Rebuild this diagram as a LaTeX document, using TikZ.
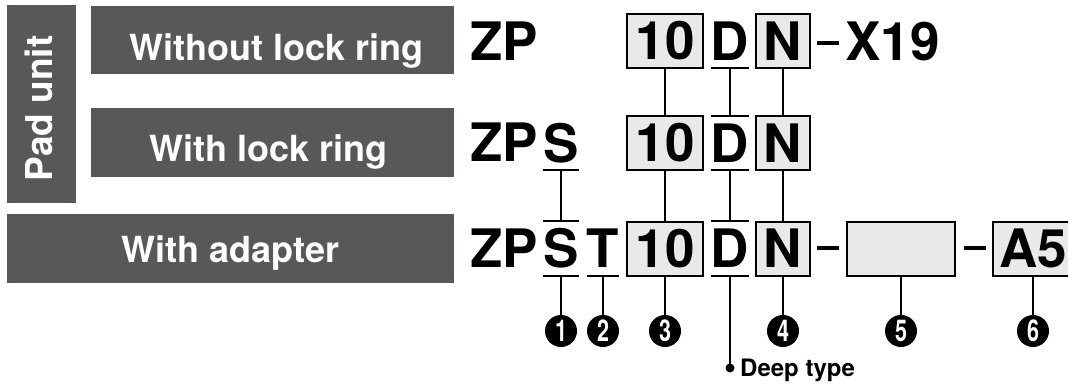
\documentclass[tikz,border=0pt]{standalone}
\usepackage{fontspec}
\setmainfont{TeX Gyre Heros}
\definecolor{hdrgray}{RGB}{89,87,88}
\definecolor{segfill}{RGB}{232,233,232}
\newcommand\cdfont{\fontsize{53}{53}\selectfont\bfseries}
\newcommand\numfnt{\fontsize{30}{30}\selectfont\bfseries}
\newcommand\numtxt[1]{\scalebox{0.72}[1]{#1}}
\begin{document}
\begin{tikzpicture}[x=1pt,y=-1pt,
  hdrbox/.style={fill=hdrgray, inner sep=0pt, outer sep=0pt},
  hdrtext/.style={text=white, font=\fontsize{36}{36}\selectfont\bfseries, inner sep=0pt, anchor=base},
  seg/.style={draw, line width=2pt, fill=segfill, minimum height=54pt, inner sep=0pt, font=\cdfont},
  plainseg/.style={minimum height=54pt, inner sep=0pt, font=\cdfont},
  codetxt/.style={inner sep=0pt, anchor=base west, font=\cdfont},
  rulel/.style={line width=2pt},
  conn/.style={line width=2pt},
  num/.style={circle, fill=black, minimum size=32pt, inner sep=0pt, text=white, font=\numfnt},
  dashglyph/.style={fill=black, minimum width=22pt, minimum height=4pt, inner sep=0pt},
]
\useasboundingbox (0,0) rectangle (1068,383);

% header boxes
\node[hdrbox, minimum width=198pt, minimum height=69pt, rotate=90] (pad) at (41.5,104) {};
\node[hdrtext, font=\fontsize{37}{37}\selectfont\bfseries, rotate=90] (padt) at (52,108.5) {Pad unit};
\node[hdrbox, minimum width=363pt, minimum height=68pt] (h1) at (272.5,40) {};
\node[hdrtext] (h1t) at (276.5,60) {Without lock ring};
\node[hdrbox, minimum width=363pt, minimum height=69pt] (h2) at (272.5,142.5) {};
\node[hdrtext] (h2t) at (268.5,161) {With lock ring};
\node[hdrbox, minimum width=447pt, minimum height=69pt] (h3) at (230.5,248.5) {};
\node[hdrtext] (h3t) at (230.5,262) {With adapter};

% row 1
\node[codetxt] (zp1) at (470,60) {ZP};
\node[seg, minimum width=76pt] (ta) at (665,41) {10};
\node[plainseg, minimum width=38pt] (da) at (730,41) {D};
\node[seg, minimum width=54pt] (na) at (783,41) {N};
\node[dashglyph] (dsh1) at (828,43) {};
\node[codetxt] (x19) at (845,60) {X19};
\draw[rulel] (da.south west) -- (da.south east);

% row 2
\node[codetxt] (zp2) at (470,161) {ZP};
\node[plainseg, minimum width=36pt] (sb) at (561,143) {S};
\node[seg, minimum width=76pt] (tb) at (665,143) {10};
\node[plainseg, minimum width=38pt] (db) at (730,143) {D};
\node[seg, minimum width=54pt] (nb) at (783,143) {N};
\draw[rulel] (sb.south west) -- (sb.south east);
\draw[rulel] (db.north west) -- (db.north east);
\draw[rulel] (db.south west) -- (db.south east);

% row 3
\node[codetxt] (zp3) at (470,267) {ZP};
\node[plainseg, minimum width=36pt] (sc) at (561,248.5) {S};
\node[plainseg, minimum width=32pt] (tcc) at (603,248.5) {T};
\node[seg, minimum width=76pt] (tc) at (665,248.5) {10};
\node[plainseg, minimum width=38pt] (dc) at (730,248.5) {D};
\node[seg, minimum width=54pt] (nc) at (783,248.5) {N};
\node[dashglyph] (dsh2) at (828,248) {};
\node[seg, minimum width=108pt] (blank) at (901,248.5) {};
\node[dashglyph] (dsh3) at (974.5,248) {};
\node[seg, minimum width=80pt] (a5) at (1033,248.5) {A5};
\draw[rulel] (sc.north west) -- (sc.north east);
\draw[rulel] (sc.south west) -- (sc.south east);
\draw[rulel] (tcc.south west) -- (tcc.south east);
\draw[rulel] (dc.north west) -- (dc.north east);
\draw[rulel] (dc.south west) -- (dc.south east);

% numbers
\node[num] (c1) at (561,331) {\numtxt{1}};
\node[num] (c2) at (603,331) {\numtxt{2}};
\node[num] (c3) at (665,331) {\numtxt{3}};
\node[num] (c4) at (783,331) {\numtxt{4}};
\node[num] (c5) at (901,331) {\numtxt{5}};
\node[num] (c6) at (1033,331) {\numtxt{6}};
\node[circle, fill=black, minimum size=9pt, inner sep=0pt] (dot) at (730,368) {};
\node[inner sep=0pt, anchor=base west, font=\fontsize{24}{24}\selectfont\bfseries] (deep) at (740,376) {Deep type};

% connectors
\draw[conn] (ta.south) -- (tb.north);
\draw[conn] (da.south) -- (db.north);
\draw[conn] (na.south) -- (nb.north);
\draw[conn] (sb.south) -- (sc.north);
\draw[conn] (tb.south) -- (tc.north);
\draw[conn] (db.south) -- (dc.north);
\draw[conn] (nb.south) -- (nc.north);
\draw[conn] (sc.south) -- (c1.north);
\draw[conn] (tcc.south) -- (c2.north);
\draw[conn] (tc.south) -- (c3.north);
\draw[conn] (dc.south) -- (dot.center);
\draw[conn] (nc.south) -- (c4.north);
\draw[conn] (blank.south) -- (c5.north);
\draw[conn] (a5.south) -- (c6.north);
\end{tikzpicture}
\end{document}
